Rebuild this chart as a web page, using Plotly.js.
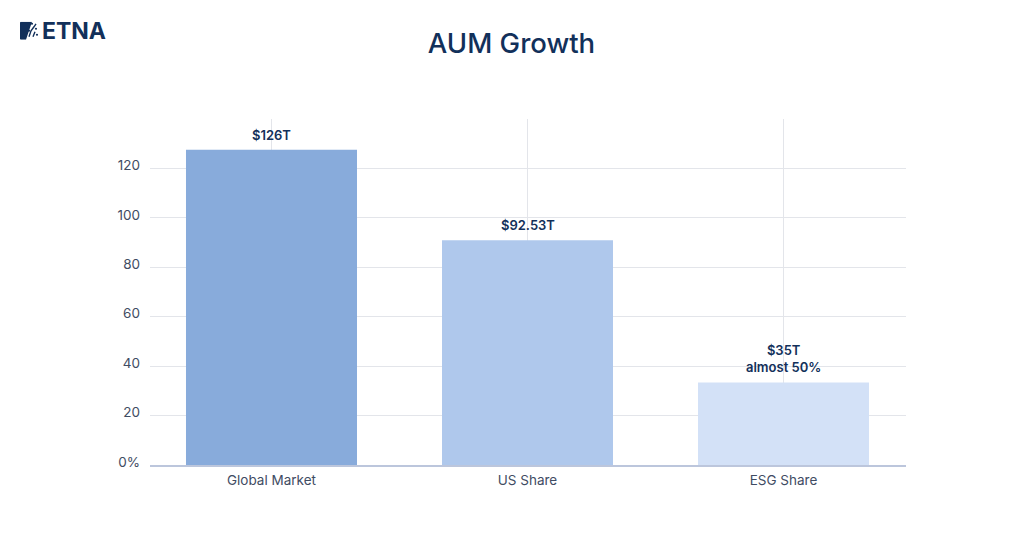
<!DOCTYPE html>
<html>
<head>
<meta charset="utf-8">
<script src="https://cdn.plot.ly/plotly-3.0.1.min.js"></script>
<style>html,body{margin:0;padding:0;background:#fff}#chart{width:1024px;height:538px}</style>
</head>
<body>
<div id="chart"></div>
<script>
const categories = ["Global Market", "US Share", "ESG Share"];
const barValues = [127.6, 90.9, 33.4];
const barLabels = ["$126T", "$92.53T", "$35T<br>almost 50%"];
const barColors = ["#88abdb", "#afc8ec", "#d3e1f7"];
const yTickValues = [0, 20, 40, 60, 80, 100, 120];
const yTickLabels = ["0%", "20", "40", "60", "80", "100", "120"];

const FONT = "Inter, 'Open Sans', sans-serif";
const NAVY = "#12305a";
const W = 1024, H = 538;
const L = 150, R = 906, T = 118.5, B = 465.5;

const iconSvg = "data:image/svg+xml;utf8," + encodeURIComponent(
  '<svg xmlns="http://www.w3.org/2000/svg" width="19" height="18" viewBox="0 0 19 18">' +
  '<path d="M1 0H12L6 18H1a1 1 0 0 1-1-1V1a1 1 0 0 1 1-1z" fill="#12305a"/>' +
  '<path d="M9 15L11 9L14 5L16 2M13 15L15 10" stroke="#12305a" stroke-width="1.4" fill="none"/>' +
  '<circle cx="9" cy="9" r="1.1" fill="#12305a"/><circle cx="16" cy="7" r="1.1" fill="#12305a"/>' +
  '<circle cx="17" cy="13" r="1.1" fill="#12305a"/><circle cx="12" cy="2" r="1.1" fill="#12305a"/>' +
  '</svg>');

const labelAnnotations = categories.map((c, i) => ({
  text: barLabels[i],
  x: c,
  y: barValues[i],
  xref: "x", yref: "y",
  xanchor: "center", yanchor: "bottom",
  yshift: 5,
  showarrow: false,
  font: { family: FONT, size: 13, color: NAVY, weight: 600 }
}));

Plotly.newPlot("chart", [{
  type: "bar",
  x: categories,
  y: barValues,
  width: 0.668,
  marker: { color: barColors, line: { width: 0 } },
  cliponaxis: false,
  hoverinfo: "x+y"
}], {
  width: W,
  height: H,
  paper_bgcolor: "#ffffff",
  plot_bgcolor: "#ffffff",
  showlegend: false,
  margin: { l: L, r: W - R, t: T, b: H - B, pad: 0 },
  font: { family: FONT, color: "#3f4c63" },
  title: {
    text: "AUM Growth",
    font: { family: FONT, size: 27.5, color: NAVY, weight: 500 },
    x: 511.5 / W, xanchor: "center",
    y: 1 - 43 / H, yanchor: "middle"
  },
  xaxis: {
    type: "category",
    range: [-0.4746, 2.4785],
    showgrid: true,
    gridcolor: "#e3e5ea",
    gridwidth: 1,
    showline: true,
    linecolor: "#bcc6dc",
    linewidth: 1.5,
    ticks: "",
    tickfont: { family: FONT, size: 13.5, color: "#3f4c63" },
    ticklabelstandoff: 2
  },
  yaxis: {
    range: [0, 140],
    tickmode: "array",
    tickvals: yTickValues,
    ticktext: yTickLabels,
    showgrid: true,
    gridcolor: "#e3e5ea",
    gridwidth: 1,
    zeroline: false,
    showline: false,
    ticks: "",
    tickfont: { family: FONT, size: 13.5, color: "#3f4c63" },
    ticklabelstandoff: 9,
    ticklabelshift: -3
  },
  images: [{
    source: iconSvg,
    xref: "paper", yref: "paper",
    x: (20 - L) / (R - L), y: (B - 21) / (B - T),
    sizex: 19 / (R - L), sizey: 18 / (B - T),
    xanchor: "left", yanchor: "top", layer: "above", sizing: "stretch"
  }],
  annotations: labelAnnotations.concat([{
    text: "<b>ETNA</b>",
    xref: "paper", yref: "paper",
    x: (39.5 - L) / (R - L), y: (B - 30) / (B - T),
    xanchor: "left", yanchor: "middle",
    showarrow: false,
    font: { family: FONT, size: 23, color: NAVY }
  }])
}, { displayModeBar: false, staticPlot: true });
</script>
</body>
</html>
